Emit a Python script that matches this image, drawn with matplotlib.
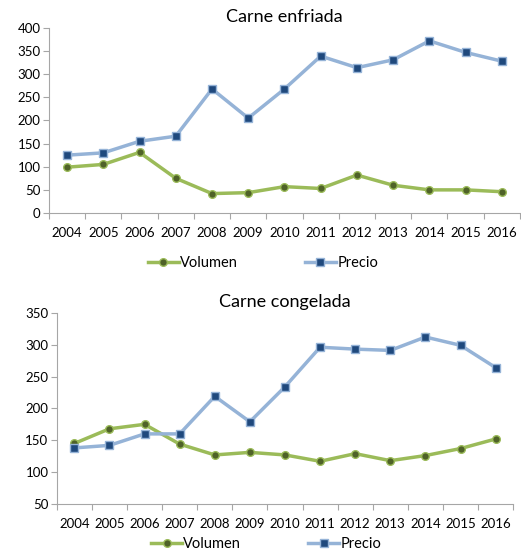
import numpy as np
import matplotlib.pyplot as plt
from matplotlib.ticker import FixedLocator, NullFormatter

plt.rcParams['font.family'] = ['Lato', 'DejaVu Sans']

years = ["2004", "2005", "2006", "2007", "2008", "2009", "2010",
         "2011", "2012", "2013", "2014", "2015", "2016"]

# Carne enfriada
enfriada_volumen = [99, 105, 131, 75, 42, 44, 57, 53, 82, 60, 50, 50, 46]
enfriada_precio = [125, 130, 155, 166, 268, 205, 268, 339, 314, 331, 372, 347, 328]

# Carne congelada
congelada_volumen = [145, 168, 175, 144, 127, 131, 127, 117, 129, 118, 126, 137, 152]
congelada_precio = [138, 142, 160, 160, 219, 179, 234, 296, 293, 291, 312, 299, 264]

green_line = "#9BBB59"
green_marker = "#4F6228"
blue_line = "#95B3D7"
blue_marker = "#1F497D"
axis_color = "#A6A6A6"

fig = plt.figure(figsize=(5.21, 5.51), dpi=100)
ax1 = fig.add_axes([0.094, 0.6134, 0.904, 0.336])
ax2 = fig.add_axes([0.109, 0.0853, 0.876, 0.347])


def draw(ax, title, volumen, precio, yticks, legend_pos):
    x = np.arange(len(years))
    ax.plot(x, volumen, color=green_line, lw=2.5, marker="o", ms=5.5,
            mfc=green_marker, mec=green_line, mew=1, label="Volumen")
    ax.plot(x, precio, color=blue_line, lw=2.5, marker="s", ms=5.5,
            mfc=blue_marker, mec=blue_line, mew=1, label="Precio")
    ax.set_xlim(-0.5, len(years) - 0.5)
    ax.set_ylim(yticks[0], yticks[-1])
    ax.set_yticks(yticks)
    # tick marks between categories, labels centred on categories
    ax.xaxis.set_major_locator(FixedLocator(np.arange(-0.5, len(years), 1.0)))
    ax.xaxis.set_major_formatter(NullFormatter())
    ax.xaxis.set_minor_locator(FixedLocator(x))
    ax.set_xticklabels(years, minor=True)
    ax.tick_params(axis="x", which="major", length=4, color=axis_color)
    ax.tick_params(axis="x", which="minor", length=0, pad=10, labelsize=9.5)
    ax.tick_params(axis="y", length=4, color=axis_color, labelsize=9.5, pad=2)
    for s in ["top", "right"]:
        ax.spines[s].set_visible(False)
    for s in ["left", "bottom"]:
        ax.spines[s].set_color(axis_color)
    ax.set_title(title, fontsize=13, pad=4)
    fig.legend(handles=ax.get_lines(), loc="center",
               bbox_to_anchor=legend_pos, ncol=2, frameon=False,
               fontsize=10.5, columnspacing=4.6, handlelength=2.1,
               handletextpad=0.1, borderpad=0, borderaxespad=0)


draw(ax1, "Carne enfriada", enfriada_volumen, enfriada_precio,
     [0, 50, 100, 150, 200, 250, 300, 350, 400], (0.505, 0.522))
draw(ax2, "Carne congelada", congelada_volumen, congelada_precio,
     [50, 100, 150, 200, 250, 300, 350], (0.511, 0.013))

fig.savefig("out.png", dpi=100)
